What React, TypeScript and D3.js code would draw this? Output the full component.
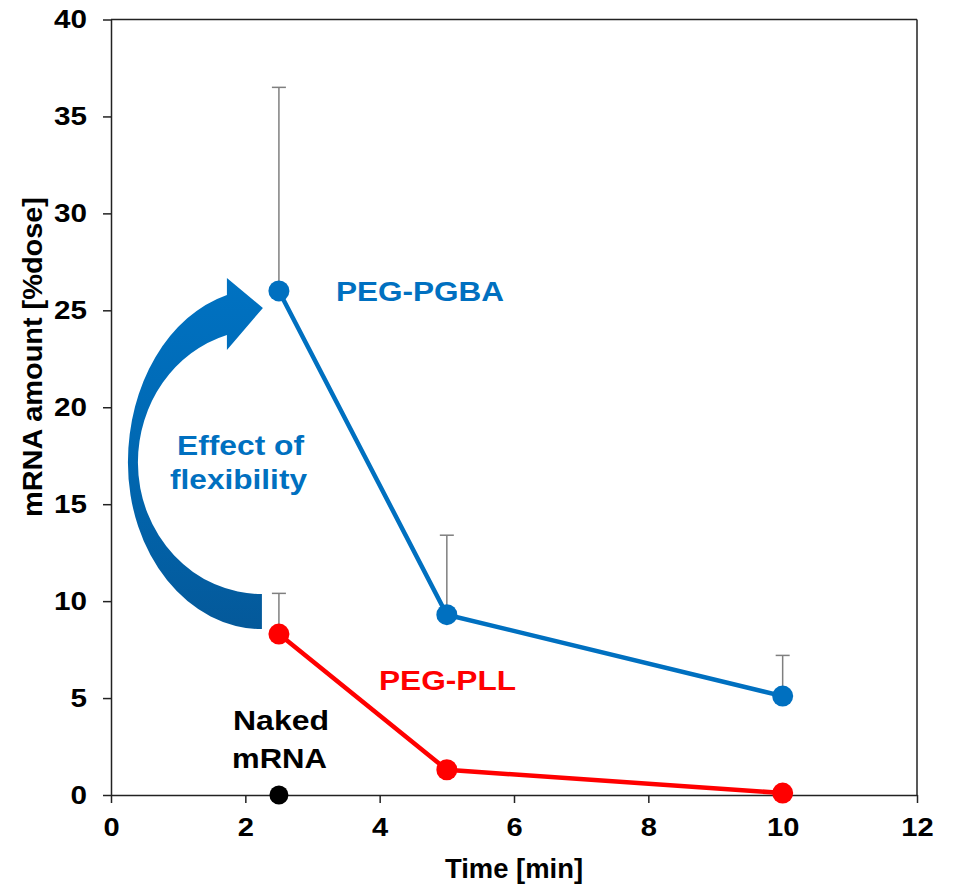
import * as d3 from "d3";
import { useEffect, useRef } from "react";

// values
const times = [2.5, 5, 10];
const pgbaMean = [26.0, 9.3, 5.1];
const pgbaUpper = [36.5, 13.4, 7.2];
const pllMean = [8.3, 1.3, 0.1];
const pllUpper = [10.4, null, null];
const nakedTime = [2.5];
const nakedMean = [0];
const xTicks = [0, 2, 4, 6, 8, 10, 12];
const yTicks = [0, 5, 10, 15, 20, 25, 30, 35, 40];

const BLUE = "#0070C0";
const RED = "#FF0000";
const FONT = "'Liberation Sans', Arial, sans-serif";

export default function App() {
  const xAxisRef = useRef<SVGGElement>(null);
  const yAxisRef = useRef<SVGGElement>(null);

  const width = 953;
  const height = 885;
  const margin = { top: 19.5, right: 36, bottom: 90, left: 111 };

  const x = d3.scaleLinear().domain([0, 12]).range([margin.left, width - margin.right]);
  const y = d3.scaleLinear().domain([0, 40]).range([height - margin.bottom, margin.top]);

  useEffect(() => {
    const gx = d3.select(xAxisRef.current);
    gx.selectAll("*").remove();
    gx.call(d3.axisBottom(x).tickValues(xTicks).tickSize(8).tickPadding(15).tickSizeOuter(0));
    gx.select(".domain").attr("stroke", "#222").attr("stroke-width", 1.5);
    gx.selectAll(".tick line").attr("stroke", "#222").attr("stroke-width", 1.5);
    gx.selectAll(".tick text")
      .attr("font-size", 26)
      .attr("font-weight", "bold")
      .attr("font-family", FONT)
      .attr("fill", "#000")
      .attr("transform", "scale(1.12,1)");

    const gy = d3.select(yAxisRef.current);
    gy.selectAll("*").remove();
    gy.call(d3.axisLeft(y).tickValues(yTicks).tickSize(8).tickPadding(13).tickSizeOuter(0));
    gy.select(".domain").attr("stroke", "#222").attr("stroke-width", 1.5);
    gy.selectAll(".tick line").attr("stroke", "#222").attr("stroke-width", 1.5);
    gy.selectAll(".tick text")
      .attr("font-size", 26)
      .attr("font-weight", "bold")
      .attr("font-family", FONT)
      .attr("fill", "#000")
      .attr("transform", "scale(1.14,1)");
  }, []);

  const line = d3
    .line<number>()
    .x((_, i) => x(times[i]))
    .y((d) => y(d));

  // curved "effect of flexibility" arrow, placed relative to the two 2.5 min points
  const px = x(times[0]);
  const pTop = y(pgbaMean[0]);
  const pBot = y(pllMean[0]);
  const cx = px - 17;
  const cy = (pTop + pBot) / 2;
  const endOuter = pBot - 5;
  const endInner = pBot - 40;
  const headX = px - 52;
  const tipX = px - 16;
  const tipY = pTop + 17;
  const arrowPath = [
    `M ${cx} ${endOuter}`,
    `A 134 ${endOuter - cy} 0 0 1 ${cx - 134} ${cy}`,
    `A 134 ${(cy - pTop - 4) / 0.965} 0 0 1 ${headX} ${pTop + 4}`,
    `L ${headX} ${pTop - 13}`,
    `L ${tipX} ${tipY}`,
    `L ${headX} ${pTop + 59}`,
    `L ${headX} ${pTop + 44}`,
    `A 124 ${(cy - pTop - 44) / 0.959} 0 0 0 ${cx - 124} ${cy}`,
    `A 124 ${endInner - cy} 0 0 0 ${cx} ${endInner}`,
    "Z",
  ].join(" ");

  const errBar = (t: number, m: number, u: number | null, key: string) =>
    u == null ? null : (
      <g key={key} stroke="#7f7f7f" strokeWidth={1.5}>
        <line x1={x(t)} x2={x(t)} y1={y(m)} y2={y(u)} />
        <line x1={x(t) - 7} x2={x(t) + 7} y1={y(u)} y2={y(u)} />
      </g>
    );

  return (
    <svg
      width={width}
      height={height}
      style={{ position: "absolute", left: 0, top: 0, background: "#fff" }}
      fontFamily={FONT}
      fontWeight="bold"
    >
      <defs>
        <linearGradient id="arrowGrad" x1="0" y1="0" x2="0" y2="1">
          <stop offset="0%" stopColor="#0072C2" />
          <stop offset="45%" stopColor="#0069B4" />
          <stop offset="100%" stopColor="#04599A" />
        </linearGradient>
      </defs>

      {/* frame top and right */}
      <line x1={x(0)} x2={x(12)} y1={y(40)} y2={y(40)} stroke="#222" strokeWidth={1.5} />
      <line x1={x(12)} x2={x(12)} y1={y(40)} y2={y(0)} stroke="#222" strokeWidth={1.5} />

      <g ref={xAxisRef} transform={`translate(0,${y(0)})`} />
      <g ref={yAxisRef} transform={`translate(${x(0)},0)`} />

      <path d={arrowPath} fill="url(#arrowGrad)" />

      {times.map((t, i) => errBar(t, pgbaMean[i], pgbaUpper[i], "eb" + i))}
      {times.map((t, i) => errBar(t, pllMean[i], pllUpper[i], "er" + i))}

      <path d={line(pgbaMean) || ""} fill="none" stroke={BLUE} strokeWidth={4.5} />
      <path d={line(pllMean) || ""} fill="none" stroke={RED} strokeWidth={4.5} />

      {pgbaMean.map((v, i) => (
        <circle key={"b" + i} cx={x(times[i])} cy={y(v)} r={10.5} fill={BLUE} />
      ))}
      {pllMean.map((v, i) => (
        <circle key={"r" + i} cx={x(times[i])} cy={y(v)} r={10.5} fill={RED} />
      ))}
      {nakedMean.map((v, i) => (
        <circle key={"n" + i} cx={x(nakedTime[i])} cy={y(v)} r={9.5} fill="#000" />
      ))}

      {/* annotations */}
      <text x={336} y={301} fontSize={27.5} fill={BLUE} textLength={168} lengthAdjust="spacingAndGlyphs">
        PEG-PGBA
      </text>
      <text x={379} y={690} fontSize={27.5} fill={RED} textLength={137} lengthAdjust="spacingAndGlyphs">
        PEG-PLL
      </text>
      <text x={233} y={730} fontSize={28} fill="#000" textLength={96} lengthAdjust="spacingAndGlyphs">
        Naked
      </text>
      <text x={232} y={768} fontSize={28} fill="#000" textLength={95} lengthAdjust="spacingAndGlyphs">
        mRNA
      </text>
      <text x={177} y={455} fontSize={28} fill={BLUE} textLength={127} lengthAdjust="spacingAndGlyphs">
        Effect of
      </text>
      <text x={170} y={489} fontSize={28} fill={BLUE} textLength={137} lengthAdjust="spacingAndGlyphs">
        flexibility
      </text>

      {/* axis titles */}
      <text x={445} y={878} fontSize={27} fill="#000" textLength={138} lengthAdjust="spacingAndGlyphs">
        Time [min]
      </text>
      <text
        transform="translate(42,517) rotate(-90)"
        fontSize={27}
        fill="#000"
        textLength={320}
        lengthAdjust="spacingAndGlyphs"
      >
        mRNA amount [%dose]
      </text>
    </svg>
  );
}
